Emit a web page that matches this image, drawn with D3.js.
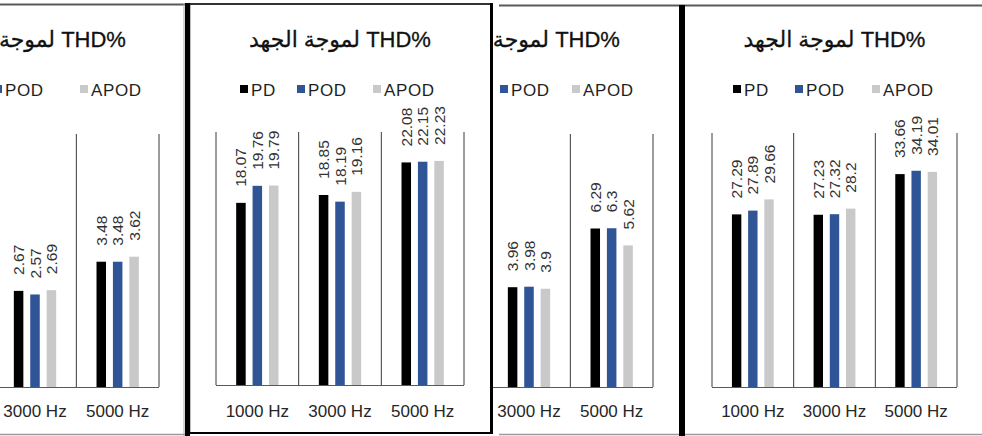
<!DOCTYPE html>
<html>
<head>
<meta charset="utf-8">
<script src="https://cdn.jsdelivr.net/npm/d3@7"></script>
<style>
  html, body { margin: 0; padding: 0; background: #ffffff; }
  svg { display: block; }
  text { font-family: "Liberation Sans", Arial, "DejaVu Sans", sans-serif; }
</style>
</head>
<body>
<svg id="chart" width="982" height="436"></svg>
<script>
// ---------- DATA ----------
const categories = ["1000 Hz", "3000 Hz", "5000 Hz"];
const seriesNames = ["PD", "POD", "APOD"];
// written in logical order so that it displays as "THD% لموجة الجهد" (THD% on the right)
const titleText = "لموجة الجهد THD%";

// Panel 1 (cropped: 1000 Hz group outside the picture)
const p1PD   = [null, 2.67, 3.48];
const p1POD  = [null, 2.57, 3.48];
const p1APOD = [null, 2.69, 3.62];
// Panel 2
const p2PD   = [18.07, 18.85, 22.08];
const p2POD  = [19.76, 18.19, 22.15];
const p2APOD = [19.79, 19.16, 22.23];
// Panel 3 (cropped: 1000 Hz group outside the picture)
const p3PD   = [null, 3.96, 6.29];
const p3POD  = [null, 3.98, 6.3];
const p3APOD = [null, 3.9, 5.62];
// Panel 4
const p4PD   = [27.29, 27.23, 33.66];
const p4POD  = [27.89, 27.32, 34.19];
const p4APOD = [29.66, 28.2, 34.01];

const yMaxes = [7, 25, 10, 40];

// ---------- STYLE / LAYOUT ----------
const colors = { PD: "#000000", POD: "#2F5597", APOD: "#C9C9C9" };

const panels = [
  { series: [p1PD, p1POD, p1APOD], yMax: yMaxes[0], plotL: -89, plotR: 159, base: 387, top: 135,
    clip: [0, 6, 184, 428], legendX: [-66, -6, 80] },
  { series: [p2PD, p2POD, p2APOD], yMax: yMaxes[1], plotL: 216, plotR: 464, base: 385, top: 133,
    clip: [190, 5, 300, 427], legendX: [240, 297, 373] },
  { series: [p3PD, p3POD, p3APOD], yMax: yMaxes[2], plotL: 405, plotR: 653, base: 387, top: 135,
    clip: [493, 7, 186, 427], legendX: [437, 500, 572] },
  { series: [p4PD, p4POD, p4APOD], yMax: yMaxes[3], plotL: 712, plotR: 957, base: 387, top: 134,
    clip: [685, 7, 297, 427], legendX: [733, 795, 872] }
];

const svg = d3.select("#chart");
svg.append("rect").attr("width", 982).attr("height", 436).attr("fill", "#fff");
const defs = svg.append("defs");

panels.forEach((p, i) => {
  defs.append("clipPath").attr("id", "clip" + i)
    .append("rect").attr("x", p.clip[0]).attr("y", p.clip[1])
    .attr("width", p.clip[2]).attr("height", p.clip[3]);

  const g = svg.append("g").attr("clip-path", `url(#clip${i})`);

  const x0 = d3.scaleBand().domain(categories).range([p.plotL, p.plotR]).paddingInner(0).paddingOuter(0);
  const x1 = d3.scaleBand().domain(seriesNames).range([0, x0.bandwidth()]).paddingInner(0.42).paddingOuter(1.23);
  const y = d3.scaleLinear().domain([0, p.yMax]).range([p.base, p.top]);
  const cx = (p.plotL + p.plotR) / 2;

  // title
  g.append("text")
    .attr("x", cx).attr("y", 47)
    .attr("text-anchor", "middle")
    .style("font-size", "22px")
    .attr("fill", "#111")
    .attr("stroke", "#111").attr("stroke-width", 0.3)
    .text(titleText);

  // legend
  const lg = g.append("g");
  seriesNames.forEach((s, k) => {
    lg.append("rect").attr("x", p.legendX[k]).attr("y", 85).attr("width", 8).attr("height", 8)
      .attr("fill", colors[s]);
    lg.append("text").attr("x", p.legendX[k] + 11).attr("y", 95.5)
      .style("font-size", "17px").style("letter-spacing", "0.6px")
      .attr("fill", "#1f1f1f").text(s);
  });

  // category separators (vertical gridlines)
  const edges = categories.map(c => x0(c)).concat([x0(categories[categories.length - 1]) + x0.bandwidth()]);
  g.selectAll(".sep").data(edges).enter().append("line")
    .attr("x1", d => d).attr("x2", d => d)
    .attr("y1", y(p.yMax) - 1).attr("y2", p.base)
    .attr("stroke", "#3a3a3a").attr("stroke-width", 1);

  // bars
  const rows = [];
  categories.forEach((c, ci) => {
    seriesNames.forEach((s, si) => {
      const v = p.series[si][ci];
      if (v !== null && v !== undefined) rows.push({ c, s, v });
    });
  });

  g.selectAll(".bar").data(rows).enter().append("rect")
    .attr("x", d => x0(d.c) + x1(d.s))
    .attr("width", x1.bandwidth())
    .attr("y", d => y(d.v))
    .attr("height", d => p.base - y(d.v))
    .attr("fill", d => colors[d.s]);

  // data labels, rotated
  g.selectAll(".lbl").data(rows).enter().append("text")
    .attr("transform", d => {
      const bx = x0(d.c) + x1(d.s) + x1.bandwidth() / 2 + 5.5;
      const by = y(d.v) - 16;
      return `translate(${bx},${by}) rotate(-90)`;
    })
    .attr("text-anchor", "start")
    .style("font-size", "15.5px")
    .attr("fill", "#333")
    .text(d => String(d.v));

  // baseline axis
  g.append("line")
    .attr("x1", p.plotL).attr("x2", p.plotR)
    .attr("y1", p.base + 0.5).attr("y2", p.base + 0.5)
    .attr("stroke", "#595959").attr("stroke-width", 1.2);

  // category axis labels
  g.selectAll(".cat").data(categories).enter().append("text")
    .attr("x", d => x0(d) + x0.bandwidth() / 2)
    .attr("y", 417)
    .attr("text-anchor", "middle")
    .style("font-size", "17px")
    .attr("fill", "#262626")
    .text(d => d);
});

// ---------- frames between the pasted charts ----------
const fr = svg.append("g");
// panel 1 frame (gray)
fr.append("line").attr("x1", 0).attr("x2", 186).attr("y1", 4.5).attr("y2", 4.5).attr("stroke", "#5a5a5a").attr("stroke-width", 2);
fr.append("line").attr("x1", 0).attr("x2", 186).attr("y1", 434.5).attr("y2", 434.5).attr("stroke", "#9a9a9a").attr("stroke-width", 1.5);
fr.append("line").attr("x1", 184).attr("x2", 184).attr("y1", 4).attr("y2", 436).attr("stroke", "#aaaaaa").attr("stroke-width", 1);
// panel 2 frame (black)
fr.append("line").attr("x1", 185).attr("x2", 493).attr("y1", 4).attr("y2", 4).attr("stroke", "#333").attr("stroke-width", 2);
fr.append("rect").attr("x", 185).attr("y", 3).attr("width", 5).attr("height", 433).attr("fill", "#000");
fr.append("rect").attr("x", 490).attr("y", 3).attr("width", 3).attr("height", 431).attr("fill", "#000");
fr.append("rect").attr("x", 185).attr("y", 432).attr("width", 308).attr("height", 2).attr("fill", "#000");
fr.append("line").attr("x1", 190.5).attr("x2", 190.5).attr("y1", 5).attr("y2", 432).attr("stroke", "#bbb").attr("stroke-width", 1);
// panel 3 & 4 frames (gray top/bottom)
fr.append("line").attr("x1", 499).attr("x2", 982).attr("y1", 5.5).attr("y2", 5.5).attr("stroke", "#5a5a5a").attr("stroke-width", 2);
fr.append("line").attr("x1", 499).attr("x2", 982).attr("y1", 434.5).attr("y2", 434.5).attr("stroke", "#9a9a9a").attr("stroke-width", 1.5);
// thick black divider
fr.append("rect").attr("x", 679).attr("y", 5).attr("width", 6).attr("height", 431).attr("fill", "#000");
</script>
</body>
</html>
